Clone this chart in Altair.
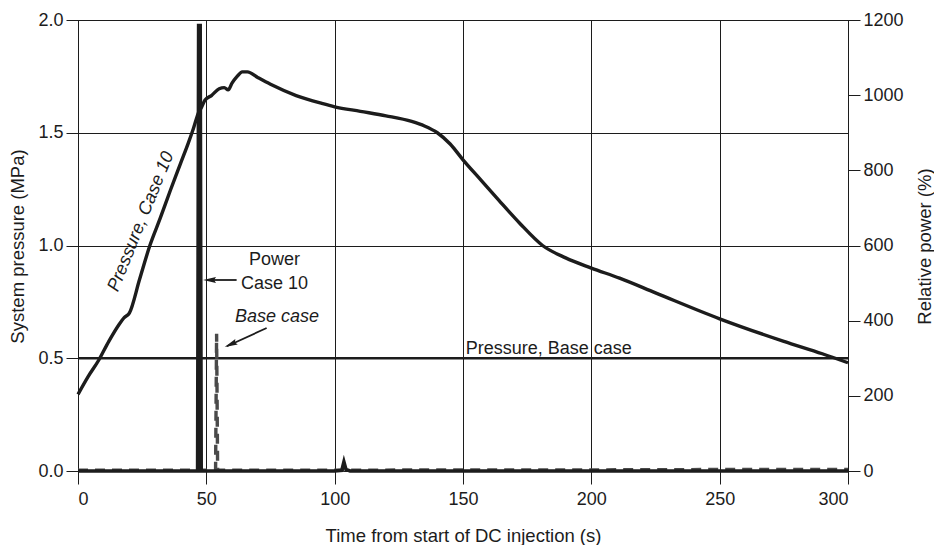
import altair as alt
import pandas as pd

# Pressure, Case 10 (MPa)
t_p10 = [0, 4, 8, 12, 16, 18, 20, 24, 28, 32, 36, 40, 43, 45, 47, 48, 49.5, 52, 55,
         57, 58.5, 60, 62, 64, 66, 70, 75, 85, 95, 100, 110, 120, 130, 135, 140,
         145, 150, 157, 164, 172, 181, 190, 200, 211, 225, 250, 275, 290, 300]
p10 = [0.34, 0.42, 0.49, 0.575, 0.65, 0.68, 0.70, 0.85, 1.00, 1.12, 1.245, 1.365,
       1.455, 1.52, 1.59, 1.61, 1.645, 1.665, 1.695, 1.70, 1.69, 1.72, 1.75, 1.77,
       1.77, 1.745, 1.715, 1.665, 1.63, 1.615, 1.595, 1.575, 1.55, 1.53, 1.50,
       1.45, 1.38, 1.29, 1.20, 1.10, 1.00, 0.945, 0.90, 0.855, 0.79, 0.675, 0.575,
       0.52, 0.48]

# Pressure, Base case (MPa)
t_pb = [0, 300]
pb = [0.5, 0.5]

# Relative power, Case 10 (%)
t_w10 = [0, 46.6, 47.0, 47.6, 48.0, 50, 100, 102.8, 103.6, 104.4, 106, 150, 200, 250, 300]
w10 = [0, 0, 1185, 1185, 0, 0, 0, 2, 24, 4, 0, 0, 0, 0, 0]

# Relative power, Base case (%)
t_wb = [0, 53.6, 54.0, 54.4, 60, 100, 150, 200, 250, 300]
wb = [2, 2, 365, 2, 2, 2, 3, 3, 4, 4]

# Annotation texts
ann_italic = ["Pressure, Case 10", "Base case"]
ann_normal = ["Power", "Case 10", "Pressure, Base case"]

FONT = "Liberation Sans"
INK = "#1c1c1c"
TICK_FS = 18
TITLE_FS = 18.5

df_p10 = pd.DataFrame({"t": t_p10, "p": p10})
df_pb = pd.DataFrame({"t": t_pb, "p": pb})
df_w10 = pd.DataFrame({"t": t_w10, "w": w10})
df_wb = pd.DataFrame({"t": t_wb, "w": wb})

x_enc = alt.X(
    "t:Q",
    scale=alt.Scale(domain=[0, 300], nice=False, zero=False),
    axis=alt.Axis(
        values=[0, 50, 100, 150, 200, 250, 300],
        title="Time from start of DC injection (s)",
        grid=True, gridColor=INK, gridWidth=1, gridOpacity=1,
        tickSize=13, tickColor=INK, domainColor=INK,
        labelPadding=6, labelFontSize=TICK_FS, labelFont=FONT, labelColor=INK,
        titleFontSize=TITLE_FS, titleFont=FONT, titleColor=INK, titleFontWeight="normal",
        titleX=385, titleY=64, titleBaseline="middle", titleAlign="center",
    ),
)

p_scale = alt.Scale(domain=[0, 2], nice=False, zero=False)
w_scale = alt.Scale(domain=[0, 1200], nice=False, zero=False)

p_axis = alt.Axis(
    values=[0, 0.5, 1.0, 1.5, 2.0], format=".1f",
    title="System pressure (MPa)",
    grid=True, gridColor=INK, gridWidth=1, gridOpacity=1,
    tickSize=12, tickColor=INK, domainColor=INK,
    labelPadding=3, labelFontSize=TICK_FS, labelFont=FONT, labelColor=INK,
    titleFontSize=TITLE_FS, titleFont=FONT, titleColor=INK, titleFontWeight="normal",
    titleX=-61, titleY=226, titleAngle=270, titleBaseline="middle", titleAlign="center",
)
w_axis = alt.Axis(
    orient="right", values=[0, 200, 400, 600, 800, 1000, 1200], format="d",
    title="Relative power (%)", grid=False,
    tickSize=12, tickColor=INK, domainColor=INK,
    labelPadding=3, labelFontSize=TICK_FS, labelFont=FONT, labelColor=INK,
    titleFontSize=TITLE_FS, titleFont=FONT, titleColor=INK, titleFontWeight="normal",
    titleX=76, titleY=226, titleAngle=270, titleBaseline="middle", titleAlign="center",
)

# Pressure curves (left axis)
line_pb = alt.Chart(df_pb).mark_line(color=INK, strokeWidth=2.6).encode(
    x=x_enc, y=alt.Y("p:Q", scale=p_scale, axis=p_axis)
)
line_p10 = alt.Chart(df_p10).mark_line(color=INK, strokeWidth=3.4, interpolate="monotone").encode(
    x="t:Q", y=alt.Y("p:Q", scale=p_scale)
)

# Annotations, placed in pressure coordinates
ann_i = pd.DataFrame({
    "t": [24.6, 77.5],
    "p": [1.106, 0.683],
    "label": ann_italic,
    "angle": [292, 0],
})
ann_n = pd.DataFrame({
    "t": [76.6, 76.6, 183.4],
    "p": [0.936, 0.829, 0.541],
    "label": ann_normal,
})
texts_i = alt.Chart(ann_i).mark_text(
    font=FONT, fontSize=18, color=INK, align="center", baseline="middle", fontStyle="italic"
).encode(
    x="t:Q", y=alt.Y("p:Q", scale=p_scale), text="label:N",
    angle=alt.Angle("angle:Q", scale=None),
)
texts_n = alt.Chart(ann_n).mark_text(
    font=FONT, fontSize=18, color=INK, align="center", baseline="middle"
).encode(
    x="t:Q", y=alt.Y("p:Q", scale=p_scale), text="label:N",
)

arrows = pd.DataFrame({
    "t": [50.5, 58.0],
    "t2": [61.8, 73.5],
    "p": [0.847, 0.553],
    "p2": [0.847, 0.634],
})
arrow_lines = alt.Chart(arrows).mark_rule(color=INK, strokeWidth=1.8).encode(
    x="t:Q", x2="t2:Q", y=alt.Y("p:Q", scale=p_scale), y2="p2:Q"
)
heads = pd.DataFrame({"t": [51.6, 59.8], "p": [0.847, 0.563], "ang": [270, 246]})
arrow_heads = alt.Chart(heads).mark_point(
    shape="M0,-1 L0.4,0.75 L0,0.5 L-0.4,0.75 Z", filled=True, color=INK, opacity=1, size=220
).encode(
    x="t:Q", y=alt.Y("p:Q", scale=p_scale), angle=alt.Angle("ang:Q", scale=None)
)

pressure_layer = alt.layer(line_pb, line_p10, arrow_lines, arrow_heads, texts_i, texts_n)

# Power curves (right axis)
line_wb = alt.Chart(df_wb).mark_line(color="#4a4a4a", strokeWidth=3.4, strokeDash=[10, 7]).encode(
    x="t:Q", y=alt.Y("w:Q", scale=w_scale, axis=w_axis)
)
line_w10 = alt.Chart(df_w10).mark_line(color=INK, strokeWidth=3.6).encode(
    x="t:Q", y=alt.Y("w:Q", scale=w_scale)
)
power_layer = alt.layer(line_wb, line_w10)

chart = (
    alt.layer(pressure_layer, power_layer)
    .resolve_scale(y="independent")
    .properties(
        width=770, height=451,
        autosize=alt.AutoSizeParams(type="none"),
        padding={"left": 78, "top": 20, "right": 86, "bottom": 74},
        background="white",
    )
    .configure_view(stroke=INK, strokeWidth=1)
)

chart.save("out.html", embed_options={"renderer": "svg", "actions": False})
